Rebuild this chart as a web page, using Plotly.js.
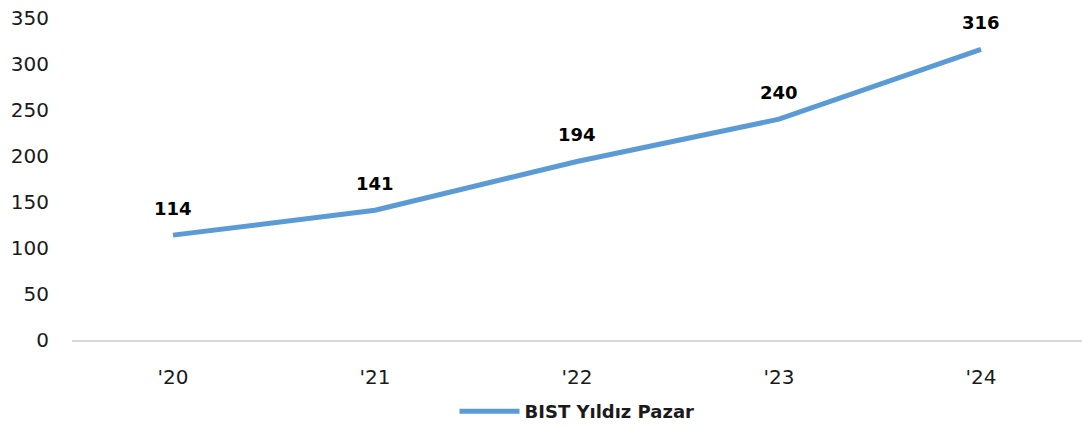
<!DOCTYPE html>
<html>
<head>
<meta charset="utf-8">
<script src="https://cdn.plot.ly/plotly-3.0.1.min.js"></script>
<style>html,body{margin:0;padding:0;background:#fff;}#chart{width:1082px;height:426px;}</style>
</head>
<body>
<div id="chart"></div>
<script>
const categories = ["'20", "'21", "'22", "'23", "'24"];
const values = [114, 141, 194, 240, 316];
const seriesName = "BIST Yıldız Pazar";
const yTicks = [0, 50, 100, 150, 200, 250, 300, 350];

const trace = {
  x: categories,
  y: values,
  type: 'scatter',
  mode: 'lines',
  name: seriesName,
  line: {color: '#5B9BD5', width: 5},
  showlegend: true,
  hoverinfo: 'skip'
};

const annotations = values.map((v, i) => ({
  x: categories[i], y: v, xref: 'x', yref: 'y',
  text: '<b>' + v + '</b>', showarrow: false,
  yshift: 27, font: {family: 'DejaVu Sans', size: 18, color: '#000'}
}));

const layout = {
  width: 1082, height: 426,
  margin: {l: 72, r: 0, t: 18, b: 86, autoexpand: false},
  paper_bgcolor: '#fff', plot_bgcolor: '#fff',
  font: {family: 'DejaVu Sans', size: 20, color: '#1a1a1a'},
  xaxis: {
    type: 'category', range: [-0.5, 4.5], automargin: false,
    showline: true, linecolor: '#d9d9d9', linewidth: 2,
    showgrid: false, zeroline: false, ticks: '',
    ticklabelstandoff: 18, fixedrange: true
  },
  yaxis: {
    range: [0, 350], tickvals: yTicks, showgrid: false, zeroline: false, automargin: false,
    showline: false, ticks: '', ticklabelstandoff: 22, fixedrange: true
  },
  showlegend: true,
  legend: {
    orientation: 'h', x: 0.5, xanchor: 'center', y: -0.222, yanchor: 'middle',
    font: {family: 'DejaVu Sans', size: 18, color: '#1a1a1a', weight: 'bold'},
    borderwidth: 0, itemwidth: 60
  },
  annotations: annotations
};

Plotly.newPlot('chart', [trace], layout, {displayModeBar: false, staticPlot: true});
</script>
</body>
</html>
